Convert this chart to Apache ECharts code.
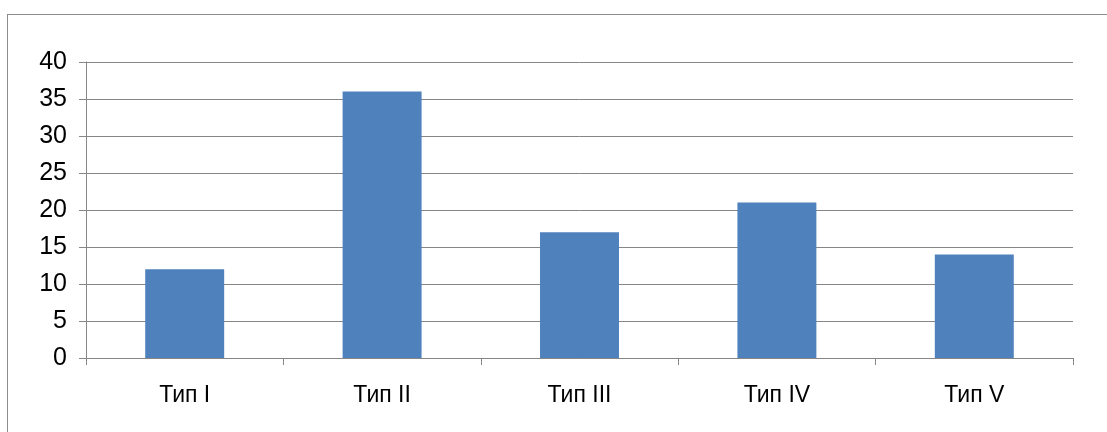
<!DOCTYPE html>
<html>
<head>
<meta charset="utf-8">
<script src="https://cdn.jsdelivr.net/npm/echarts@6/dist/echarts.min.js"></script>
<style>
  html, body { margin: 0; padding: 0; background: #fff; }
  #frame { position: absolute; left: 7px; top: 14px; width: 1200px; height: 500px;
           border: 1px solid #8c8c8c; box-sizing: border-box; }
  #chart { position: absolute; left: 0; top: 0; width: 1107px; height: 432px; }
</style>
</head>
<body>
<div id="frame"></div>
<div id="chart"></div>
<script>
// Categories and counts per type
const categories = ['Тип I', 'Тип II', 'Тип III', 'Тип IV', 'Тип V'];
const counts = [12, 36, 17, 21, 14];
const yTicks = [0, 5, 10, 15, 20, 25, 30, 35, 40];

const chart = echarts.init(document.getElementById('chart'), null, { renderer: 'canvas' });
const font = '"Liberation Sans", Arial, sans-serif';
const lineColor = '#868686';

chart.setOption({
  animation: false,
  backgroundColor: 'transparent',
  grid: { left: 86, right: 34, top: 62, bottom: 74, containLabel: false },
  xAxis: {
    type: 'category',
    data: categories,
    boundaryGap: true,
    axisLine: { show: true, lineStyle: { color: lineColor, width: 1 } },
    axisTick: { show: true, alignWithLabel: false, length: 7, lineStyle: { color: lineColor } },
    axisLabel: { margin: 26, color: '#000', fontSize: 23, fontFamily: font },
    splitLine: { show: false }
  },
  yAxis: {
    type: 'value',
    min: yTicks[0],
    max: yTicks[yTicks.length - 1],
    interval: 5,
    axisLine: { show: true, lineStyle: { color: lineColor, width: 1 } },
    axisTick: { show: true, length: 7, lineStyle: { color: lineColor } },
    axisLabel: { margin: 19, color: '#000', fontSize: 25, fontFamily: font },
    splitLine: { show: true, lineStyle: { color: lineColor, width: 1 } }
  },
  series: [{
    type: 'bar',
    data: counts,
    barWidth: '40%',
    itemStyle: { color: '#4f81bd' }
  }]
});
</script>
</body>
</html>
